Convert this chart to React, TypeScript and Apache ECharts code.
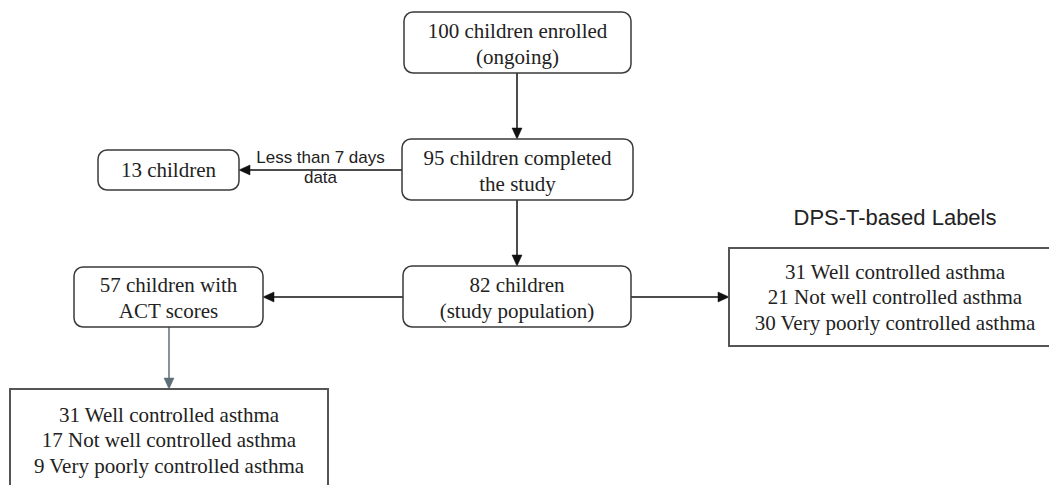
import React, { useEffect, useRef } from "react";
import * as echarts from "echarts";

const W = 1049;
const H = 485;

// Flowchart content
const nodeLabels = [
  "100 children enrolled\n(ongoing)",
  "95 children completed\nthe study",
  "13 children",
  "82 children\n(study population)",
  "57 children with\nACT scores",
  "31 Well controlled asthma\n21 Not well controlled asthma\n30 Very poorly controlled asthma",
  "31 Well controlled asthma\n17 Not well controlled asthma\n9 Very poorly controlled asthma",
];
// box extents in the hidden pixel-like axes: [x0, y0, x1, y1]
const nodeBoxes = [
  [404, 12, 631, 73],
  [402, 139, 633, 200],
  [98, 150, 239, 190],
  [403, 266, 631, 327],
  [74, 267, 263, 327],
  [729, 248, 1061, 346],
  [10, 389, 328, 491],
];
const nodeRounded = [true, true, true, true, true, false, false];

// edges: [x1, y1, x2, y2] (arrow at second point)
const edges = [
  [517, 73, 517, 139],
  [402, 170, 239, 170],
  [517, 200, 517, 266],
  [403, 297, 263, 297],
  [631, 297, 729, 297],
  [169, 327, 169, 389],
];
const edgeColors = ["#111", "#111", "#111", "#111", "#111", "#5f6f7a"];
const edgeLabels = ["", "Less than 7 days\ndata", "", "", "", ""];

const titleText = "DPS-T-based Labels";
const titlePos = [895, 217];

const SERIF = "'Liberation Serif', 'Times New Roman', serif";
const SANS = "'Liberation Sans', Arial, sans-serif";

export default function App() {
  const ref = useRef<HTMLDivElement>(null);

  useEffect(() => {
    if (!ref.current) return;
    const chart = echarts.init(ref.current, undefined, { renderer: "svg" });

    const option: any = {
      animation: false,
      backgroundColor: "#ffffff",
      grid: { left: 0, right: 0, top: 0, bottom: 0 },
      xAxis: { type: "value", min: 0, max: W, show: false },
      yAxis: { type: "value", min: 0, max: H, inverse: true, show: false },
      series: [
        {
          type: "custom",
          name: "edges",
          clip: false,
          silent: true,
          data: edges,
          encode: { x: [0, 2], y: [1, 3] },
          renderItem: (params: any, api: any) => {
            const p1 = api.coord([api.value(0), api.value(1)]);
            const p2 = api.coord([api.value(2), api.value(3)]);
            const color = edgeColors[params.dataIndex];
            const dx = p2[0] - p1[0];
            const dy = p2[1] - p1[1];
            const len = Math.sqrt(dx * dx + dy * dy) || 1;
            const ux = dx / len;
            const uy = dy / len;
            const headLen = 11;
            const headHalf = 5;
            const bx = p2[0] - ux * headLen;
            const by = p2[1] - uy * headLen;
            const children: any[] = [
              {
                type: "line",
                shape: { x1: p1[0], y1: p1[1], x2: bx, y2: by },
                style: { stroke: color, lineWidth: 1.5 },
              },
              {
                type: "polygon",
                shape: {
                  points: [
                    [p2[0], p2[1]],
                    [bx - uy * headHalf, by + ux * headHalf],
                    [bx + uy * headHalf, by - ux * headHalf],
                  ],
                },
                style: { fill: color, stroke: color, lineWidth: 0.5 },
              },
            ];
            const lbl = edgeLabels[params.dataIndex];
            if (lbl) {
              children.push({
                type: "text",
                style: {
                  text: lbl,
                  x: (p1[0] + p2[0]) / 2,
                  y: (p1[1] + p2[1]) / 2 - 3,
                  align: "center",
                  verticalAlign: "middle",
                  fontFamily: SANS,
                  fontSize: 17,
                  lineHeight: 20,
                  fill: "#222",
                },
              });
            }
            return { type: "group", children };
          },
        },
        {
          type: "custom",
          name: "nodes",
          clip: false,
          silent: true,
          data: nodeBoxes,
          encode: { x: [0, 2], y: [1, 3] },
          renderItem: (params: any, api: any) => {
            const a = api.coord([api.value(0), api.value(1)]);
            const b = api.coord([api.value(2), api.value(3)]);
            const i = params.dataIndex;
            const rounded = nodeRounded[i];
            const x = Math.min(a[0], b[0]);
            const y = Math.min(a[1], b[1]);
            const w = Math.abs(b[0] - a[0]);
            const h = Math.abs(b[1] - a[1]);
            const lines = nodeLabels[i].split("\n").length;
            return {
              type: "group",
              children: [
                {
                  type: "rect",
                  shape: { x, y, width: w, height: h, r: rounded ? 9 : 0 },
                  style: {
                    fill: "#ffffff",
                    stroke: rounded ? "#3a3a3a" : "#555555",
                    lineWidth: rounded ? 1.5 : 2,
                  },
                },
                {
                  type: "text",
                  style: {
                    text: nodeLabels[i],
                    x: x + w / 2,
                    y: y + h / 2 + (lines === 2 ? 1 : 0),
                    align: "center",
                    verticalAlign: "middle",
                    fontFamily: SERIF,
                    fontSize: 21,
                    lineHeight: lines === 3 ? 25.5 : 26,
                    fill: "#222",
                  },
                },
              ],
            };
          },
        },
      ],
      graphic: [
        {
          type: "text",
          x: titlePos[0],
          y: titlePos[1],
          style: {
            text: titleText,
            align: "center",
            verticalAlign: "middle",
            fontFamily: SANS,
            fontSize: 22,
            fill: "#222",
          },
        },
      ],
    };

    chart.setOption(option);
    return () => chart.dispose();
  }, []);

  return (
    <div
      ref={ref}
      style={{
        position: "absolute",
        left: 0,
        top: 0,
        width: W + "px",
        height: H + "px",
        background: "#fff",
      }}
    />
  );
}
